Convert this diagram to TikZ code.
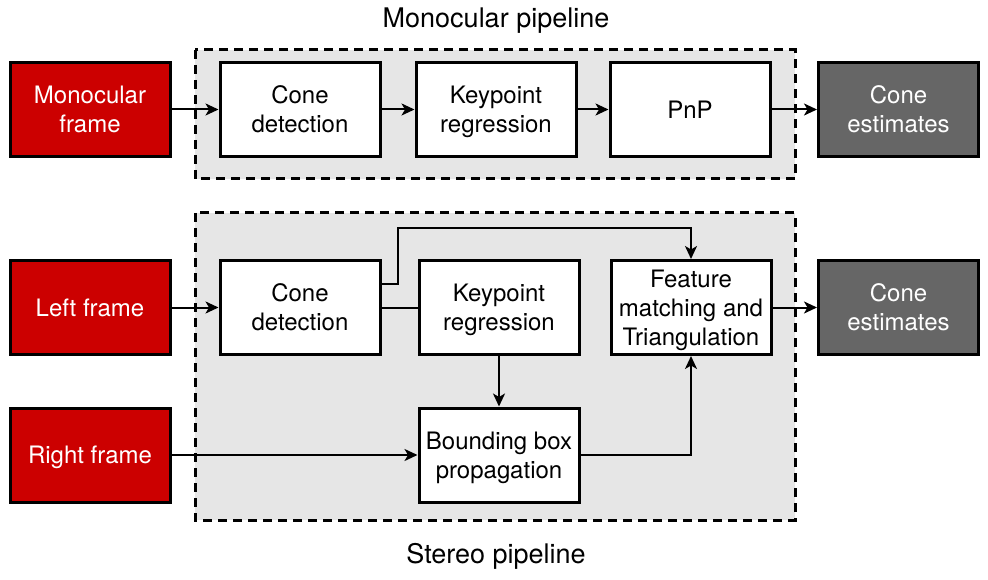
\documentclass[tikz,border=0pt]{standalone}
\usepackage{fontspec}
\setmainfont{TeX Gyre Heros}
\usetikzlibrary{arrows.meta}
\definecolor{framered}{HTML}{CC0000}
\definecolor{outgray}{HTML}{666666}
\definecolor{panelgray}{HTML}{E6E6E6}
\tikzset{
  every picture/.style={line join=miter},
  stage/.style={draw=black, line width=3pt, fill=white, minimum width=160pt,
    minimum height=94pt, align=center, font=\fontsize{24}{29}\selectfont,
    text depth=0pt, inner sep=2pt},
  inframe/.style={stage, fill=framered, text=white},
  outbox/.style={stage, fill=outgray, text=white},
  panel/.style={draw=black, line width=3pt, fill=panelgray, dash pattern=on 9pt off 6pt},
  flow/.style={line width=2pt, -{Stealth[length=13pt,width=12pt,inset=3.5pt]}},
  link/.style={line width=2pt},
  caption/.style={font=\fontsize{27}{32}\selectfont, anchor=base},
}
\begin{document}
\begin{tikzpicture}[x=1pt,y=-1pt]
\useasboundingbox (0,0) rectangle (988,580);
% pipeline panels
\draw[panel](195,50) rectangle (795,179);
\draw[panel](195,213) rectangle (795,520);
\node[caption] (monotitle) at (496,28) {Monocular pipeline};
\node[caption] (stereotitle) at (496,563) {Stereo pipeline};
% monocular
\node[inframe] (mono) at (90,109.5) {Monocular\\frame};
\node[stage] (detmono) at (300,109.5) {Cone\\detection};
\node[stage] (kpmono) at (496,109.5) {Keypoint\\regression};
\node[stage] (pnp) at (690,109.5) {PnP};
\node[outbox] (estmono) at (898.5,109.5) {Cone\\estimates};
\draw[flow](mono)--(detmono);
\draw[flow](detmono)--(kpmono);
\draw[flow](kpmono)--(pnp);
\draw[flow](pnp)--(estmono);
% stereo
\node[inframe] (left) at (90,307.5) {Left frame};
\node[inframe] (right) at (90,455) {Right frame};
\node[stage] (detstereo) at (300,307.5) {Cone\\detection};
\node[stage] (kpstereo) at (499,307.5) {Keypoint\\regression};
\node[stage] (bbox) at (499,455) {Bounding box\\propagation};
\node[stage] (match) at (691,307.5) {Feature\\matching and\\Triangulation};
\node[outbox] (eststereo) at (898.5,307.5) {Cone\\estimates};
\coordinate (jog) at (398,228);
\draw[flow](left)--(detstereo);
\draw[link](detstereo)--(kpstereo);
\draw[flow]([yshift=24pt]detstereo.east)-|(jog)-|(match.north);
\draw[flow](kpstereo)--(bbox);
\draw[flow](right)--(bbox);
\draw[flow](bbox.east)-|(match.south);
\draw[flow](match)--(eststereo);
\end{tikzpicture}
\end{document}
